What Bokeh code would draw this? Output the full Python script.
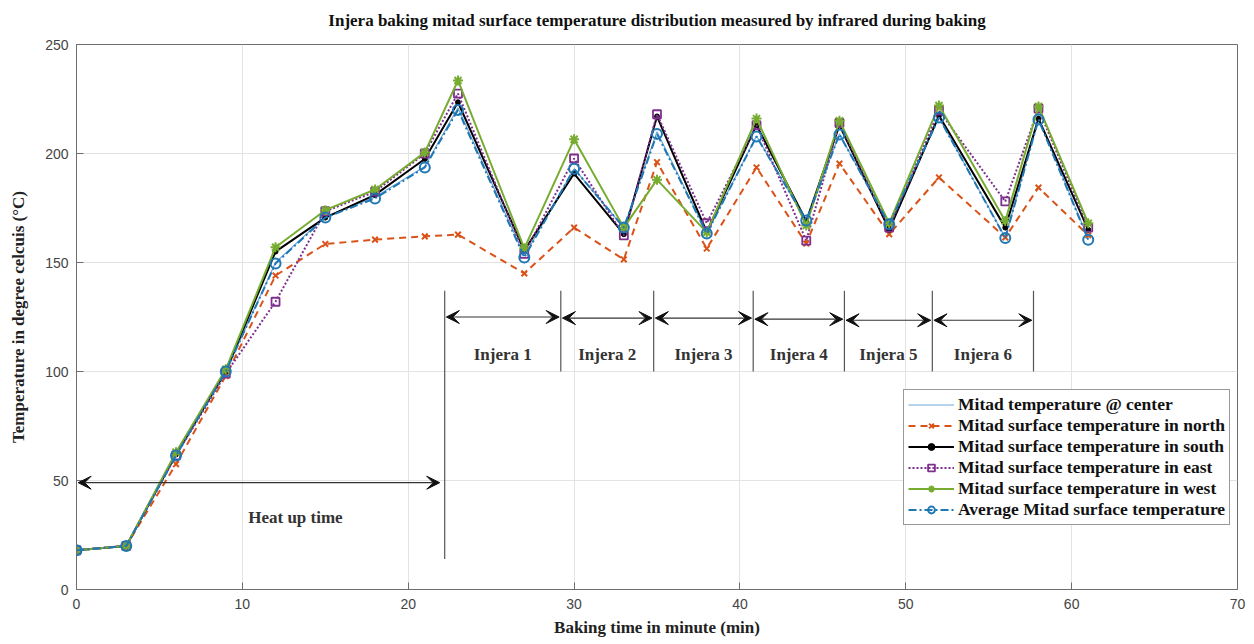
from bokeh.plotting import figure
from bokeh.models import (ColumnDataSource, Legend, LegendItem, Arrow, VeeHead,
                          Label, FixedTicker, Range1d, Title)
from bokeh.embed import file_html
from bokeh.resources import INLINE

# ---------------- data ----------------
time_min = [0, 3, 6, 9, 12, 15, 18, 21, 23, 27, 30, 33, 35, 38, 41, 44, 46, 49, 52, 56, 58, 61]
center = [18, 20, 61.5, 100, 150, 171, 180, 194, 221, 153, 193, 166, 210, 163.5, 208, 169, 209, 167, 216.5, 161.5, 216, 161]
north = [18, 20, 57.5, 98, 144, 158.5, 160.5, 162, 162.8, 145, 166, 151.4, 196, 156.4, 193.6, 158.7, 195.4, 163, 189, 161.5, 184.4, 162.5]
south = [18, 20, 62, 100, 155, 170.6, 181, 197.5, 223.5, 155.5, 190.8, 163, 217, 164, 213, 169, 213, 165, 217.4, 166, 216, 165]
east = [18, 20, 61.5, 99, 132, 173.5, 182.5, 200, 227.5, 154, 197.7, 162.4, 218, 168, 213, 160, 214, 166, 219.7, 178, 220.6, 166]
west = [18, 20, 63, 101, 157, 174, 183.5, 200.5, 233.5, 156.5, 206.5, 166, 188, 163.8, 216, 167, 215, 168, 222, 169, 221.6, 168]
average = [18, 20, 61.5, 100, 149.5, 170.6, 179.4, 193.6, 220, 152.3, 193, 166, 209, 163.3, 207.8, 169.3, 208.7, 167.5, 216.5, 161.2, 215.6, 160.4]

series_names = ["Mitad temperature @ center",
                "Mitad surface temperature in north",
                "Mitad surface temperature in south",
                "Mitad surface temperature in east",
                "Mitad surface temperature in west",
                "Average Mitad surface temperature"]

title_text = "Injera baking mitad surface temperature distribution measured by infrared during baking"
x_ticks = [0, 10, 20, 30, 40, 50, 60, 70]
y_ticks = [0, 50, 100, 150, 200, 250]

# annotation content
heat_span = [0, 22.0]
heat_arrow_y = 49
heat_label = "Heat up time"
batch_bounds = [22.2, 29.2, 34.8, 40.8, 46.3, 51.6, 57.7]
batch_labels = ["Injera 1", "Injera 2", "Injera 3", "Injera 4", "Injera 5", "Injera 6"]
batch_arrow_y = [125, 124.5, 124.5, 124, 123.5, 123.5]

SERIF = "Liberation Serif"
SANS = "Liberation Sans"

p = figure(width=1246, height=640, output_backend="svg", toolbar_location=None,
           x_range=Range1d(0, 70), y_range=Range1d(0, 250),
           min_border_left=76, min_border_right=9, min_border_top=44, min_border_bottom=51)

p.title.text = title_text
p.title.align = "center"
p.title.text_font = SERIF
p.title.text_font_size = "17px"
p.title.text_font_style = "bold"
p.title.text_color = "#111111"
p.title.standoff = 10

# thin spacer panel between title and frame
p.add_layout(Title(text=" ", text_font_size="3px", standoff=5), "above")

for ax in (p.xaxis[0], p.yaxis[0]):
    ax.axis_line_color = "#6e6e6e"
    ax.major_tick_line_color = "#6e6e6e"
    ax.major_tick_in = 7
    ax.major_tick_out = 0
    ax.minor_tick_line_color = None
    ax.major_label_text_font = SANS
    ax.major_label_text_font_size = "14px"
    ax.major_label_text_color = "#444444"
    ax.axis_label_text_font = SERIF
    ax.axis_label_text_font_style = "bold"
    ax.axis_label_text_font_size = "17px"
    ax.axis_label_text_color = "#222222"

p.xaxis.ticker = FixedTicker(ticks=x_ticks)
p.yaxis.ticker = FixedTicker(ticks=y_ticks)
p.xaxis.axis_label = "Baking time in minute (min)"
p.yaxis.axis_label = "Temperature in degree celcuis (°C)"
p.xaxis.major_label_standoff = 9
p.yaxis.major_label_standoff = 8
p.xaxis.axis_label_standoff = 6
p.yaxis.axis_label_standoff = 14

p.xgrid.grid_line_color = "#e3e3e3"
p.ygrid.grid_line_color = "#e3e3e3"
p.outline_line_color = "#6e6e6e"
p.outline_line_width = 1

src = ColumnDataSource(dict(t=time_min, c=center, n=north, s=south, e=east, w=west, a=average))

r_c = p.line("t", "c", source=src, line_color="#6fa8dc", line_width=1.2)

r_n = p.line("t", "n", source=src, line_color="#D95319", line_width=2, line_dash="7 5")
m_n = p.scatter("t", "n", source=src, marker="x", size=8, line_color="#D95319", line_width=2)

r_s = p.line("t", "s", source=src, line_color="#000000", line_width=2)
m_s = p.scatter("t", "s", source=src, marker="circle", size=5, fill_color="#000000", line_color="#000000")

r_e = p.line("t", "e", source=src, line_color="#7E2F8E", line_width=2, line_dash="2 2")
m_e = p.scatter("t", "e", source=src, marker="square", size=8, fill_color=None, line_color="#7E2F8E", line_width=1.8)

r_w = p.line("t", "w", source=src, line_color="#77AC30", line_width=2)
m_w = p.scatter("t", "w", source=src, marker="asterisk", size=10, line_color="#77AC30", line_width=2)

r_a = p.line("t", "a", source=src, line_color="#1f77b4", line_width=2, line_dash="8 3 2 3")
m_a = p.scatter("t", "a", source=src, marker="circle", size=10, fill_color=None, line_color="#1f77b4", line_width=2)

# ---------- annotations ----------
ann_color = "#555555"
p.segment(x0=[batch_bounds[0]], y0=[14], x1=[batch_bounds[0]], y1=[137], line_color=ann_color, line_width=1.2)
for b in batch_bounds[1:]:
    p.segment(x0=[b], y0=[100], x1=[b], y1=[137], line_color=ann_color, line_width=1.2)

def dbl_arrow(x0, x1, y):
    p.add_layout(Arrow(x_start=x0, y_start=y, x_end=x1, y_end=y,
                       line_color="#333333", line_width=1.2,
                       start=VeeHead(size=13, fill_color="#111111", line_color="#111111", line_width=1),
                       end=VeeHead(size=13, fill_color="#111111", line_color="#111111", line_width=1)))

dbl_arrow(heat_span[0] + 0.1, heat_span[1] - 0.1, heat_arrow_y)
p.add_layout(Label(x=(heat_span[0] + heat_span[1]) / 2 + 2.2, y=33, text=heat_label,
                   text_font=SERIF, text_font_style="bold", text_font_size="17px",
                   text_color="#333333", text_align="center", text_baseline="middle"))

for i, lab in enumerate(batch_labels):
    x0 = batch_bounds[i] + 0.1
    x1 = batch_bounds[i + 1] - 0.1
    dbl_arrow(x0, x1, batch_arrow_y[i])
    p.add_layout(Label(x=(batch_bounds[i] + batch_bounds[i + 1]) / 2, y=108, text=lab,
                       text_font=SERIF, text_font_style="bold", text_font_size="17px",
                       text_color="#333333", text_align="center", text_baseline="middle"))

legend = Legend(items=[
    LegendItem(label=series_names[0], renderers=[r_c]),
    LegendItem(label=series_names[1], renderers=[r_n, m_n]),
    LegendItem(label=series_names[2], renderers=[r_s, m_s]),
    LegendItem(label=series_names[3], renderers=[r_e, m_e]),
    LegendItem(label=series_names[4], renderers=[r_w, m_w]),
    LegendItem(label=series_names[5], renderers=[r_a, m_a]),
], location=(827, 64))
legend.label_text_font = SERIF
legend.label_text_font_style = "bold"
legend.label_text_font_size = "17.5px"
legend.label_text_color = "#111111"
legend.label_height = 17
legend.glyph_height = 17
legend.glyph_width = 46
legend.label_standoff = 4
legend.spacing = 0
legend.padding = 4
legend.margin = 0
legend.border_line_color = "#333333"
legend.border_line_width = 1
legend.background_fill_alpha = 1
p.add_layout(legend)

open("out.html", "w").write(file_html(p, INLINE))
